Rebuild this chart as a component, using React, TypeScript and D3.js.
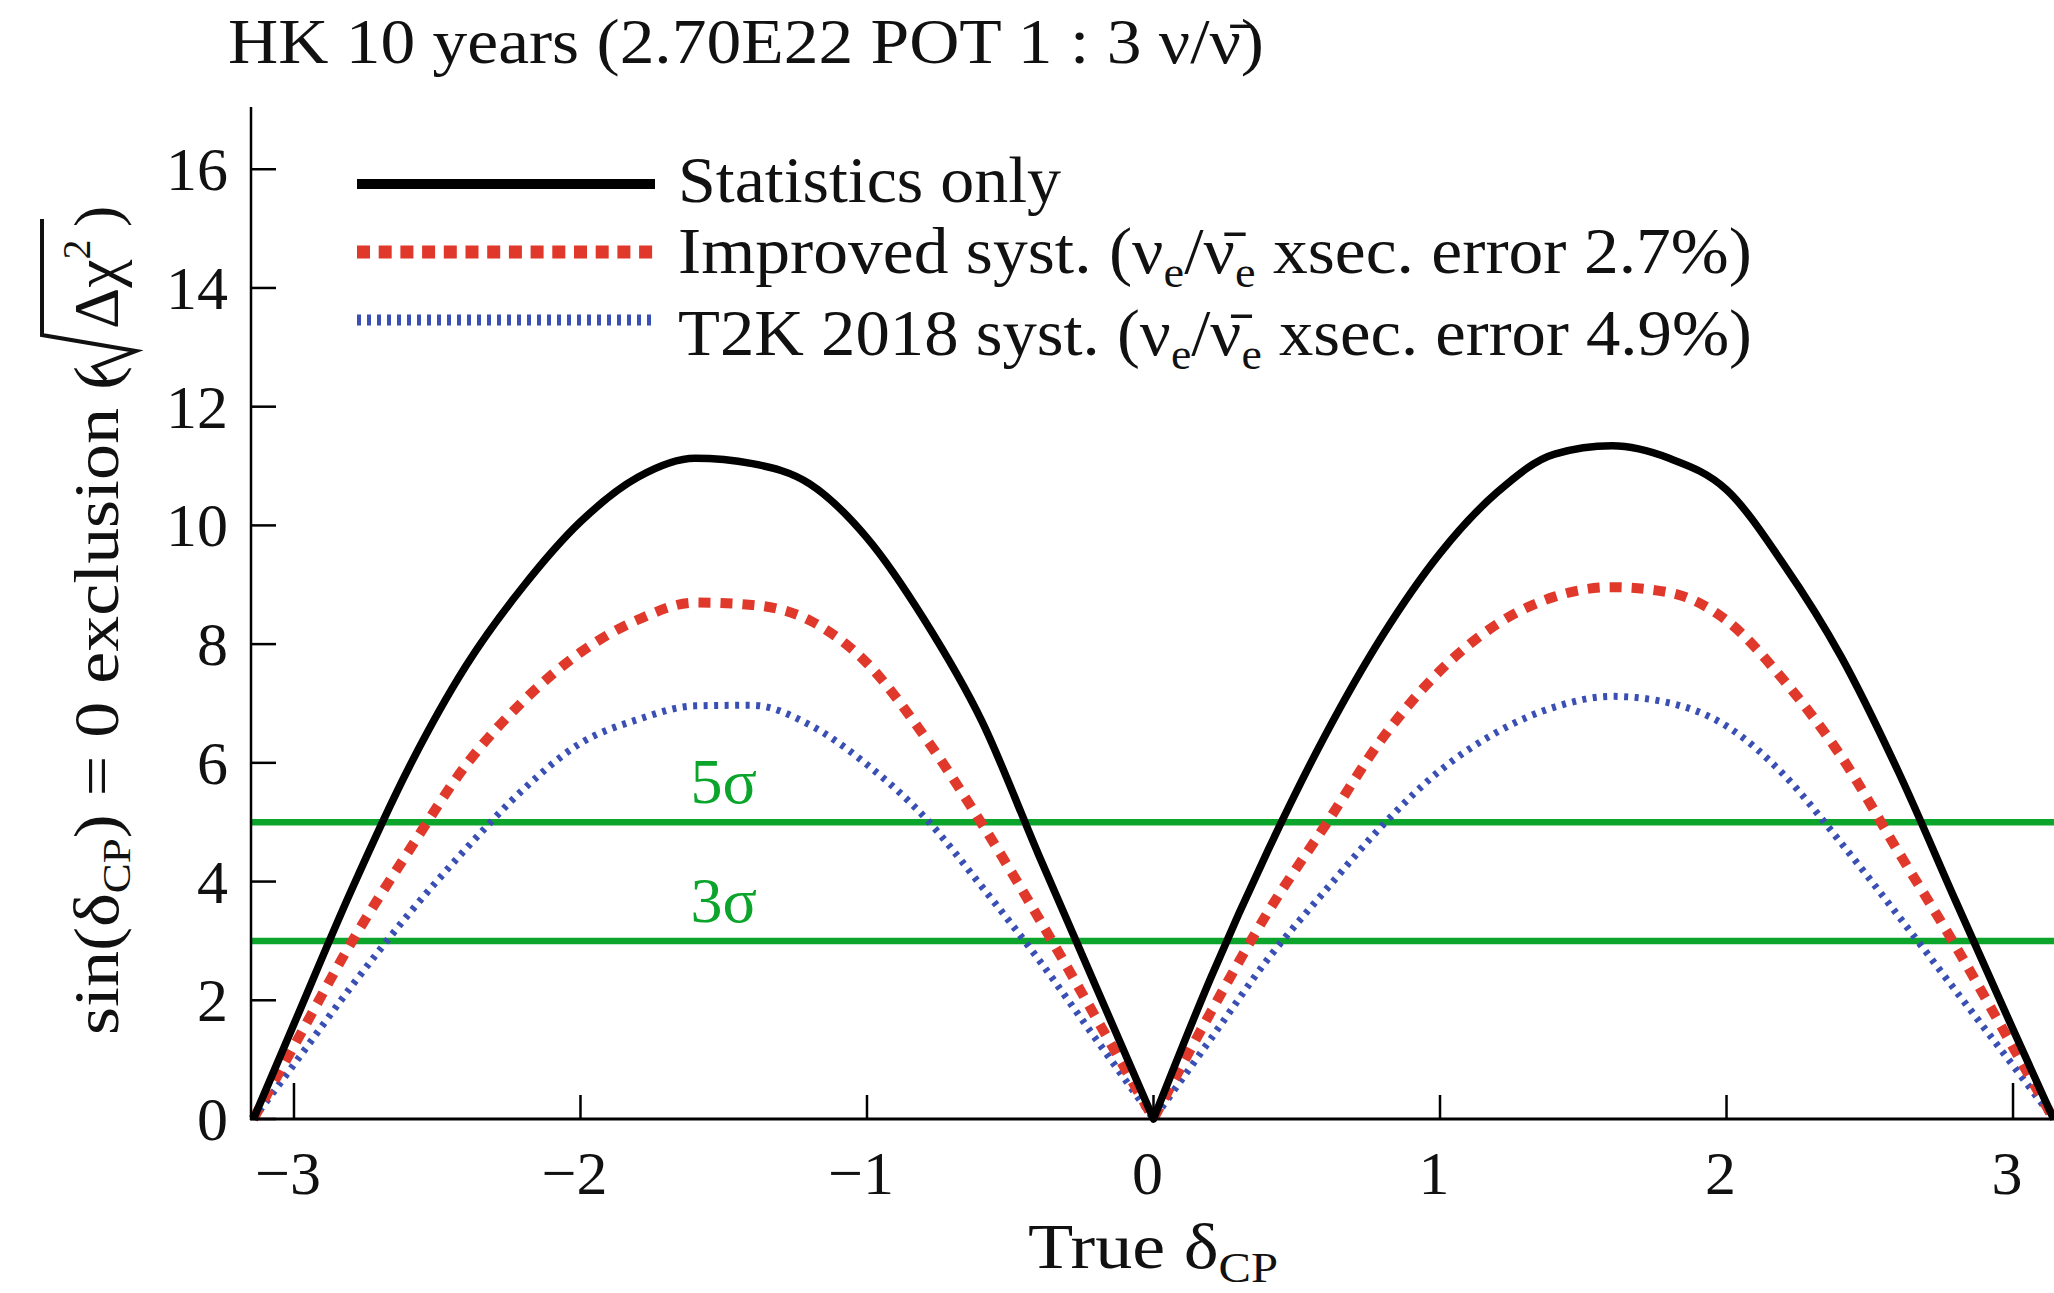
import React from 'react';
import * as d3 from 'd3';

// True delta_CP sample points (radians)
const deltaCP = [
  -3.1416, -3.0, -2.8, -2.6, -2.4, -2.2, -2.0, -1.8, -1.6, -1.4, -1.2, -1.0, -0.8, -0.6, -0.4, -0.2,
  0.0, 0.2, 0.4, 0.6, 0.8, 1.0, 1.2, 1.4, 1.6, 1.8, 2.0, 2.2, 2.4, 2.6, 2.8, 3.0, 3.1416,
];

// sqrt(delta chi^2) for sin(delta_CP)=0 exclusion
const statsOnly = [
  0, 1.6, 3.85, 5.91, 7.63, 8.97, 10.06, 10.81, 11.13, 11.04, 10.7, 9.79, 8.41, 6.71, 4.44, 2.22,
  0, 2.38, 4.53, 6.47, 8.15, 9.53, 10.56, 11.2, 11.34, 11.13, 10.6, 9.34, 7.79, 5.85, 3.67, 1.51, 0,
];
const improvedSyst = [
  0, 1.23, 2.97, 4.51, 5.96, 7.04, 7.86, 8.41, 8.7, 8.66, 8.4, 7.68, 6.45, 4.98, 3.38, 1.7,
  0, 1.8, 3.49, 4.95, 6.42, 7.55, 8.34, 8.8, 8.96, 8.87, 8.4, 7.39, 6.11, 4.5, 2.91, 1.21, 0,
];
const t2k2018Syst = [
  0, 0.92, 2.23, 3.45, 4.55, 5.55, 6.33, 6.73, 6.96, 6.97, 6.64, 5.97, 5.09, 3.92, 2.68, 1.34,
  0, 1.35, 2.7, 3.85, 4.95, 5.87, 6.52, 6.94, 7.12, 7.01, 6.62, 5.8, 4.65, 3.42, 2.16, 0.9, 0,
];

const xTicks = [-3, -2, -1, 0, 1, 2, 3];
const yTicks = [0, 2, 4, 6, 8, 10, 12, 14, 16];
const sigmaLevels = [
  { value: 5, label: '5σ' },
  { value: 3, label: '3σ' },
];

const W = 2054;
const H = 1293;
const FONT = '"Liberation Serif", "Times New Roman", Times, serif';
const GREEN = '#0aa52a';
const RED = '#e0392b';
const BLUE = '#3a4fb4';

export default function App() {
  const x = d3.scaleLinear().domain([-3.15, 3.15]).range([251, 2056]);
  const y = d3.scaleLinear().domain([0, 17]).range([1119, 1119 - 17 * 59.36]);

  // each hump (between zeros) is drawn smoothly; the cusp at 0 stays sharp
  const zeroIdx = deltaCP.indexOf(0);
  const humpPath = (vals: number[]) => {
    const pts = vals.map((v, i) => [deltaCP[i], v] as [number, number]);
    const gen = d3
      .line<[number, number]>()
      .x((d) => x(d[0]))
      .y((d) => y(d[1]))
      .curve(d3.curveMonotoneX);
    const left = gen(pts.slice(0, zeroIdx + 1)) as string;
    const right = gen(pts.slice(zeroIdx)) as string;
    return left + ' ' + right.replace(/^M/, 'L');
  };

  const series = [
    { vals: t2k2018Syst, color: BLUE, width: 7, dash: '4 6.5' },
    { vals: improvedSyst, color: RED, width: 10, dash: '12 10' },
    { vals: statsOnly, color: '#000', width: 7.5, dash: undefined as string | undefined },
  ];

  const legendY = [184, 252, 320];

  return (
    <svg
      width={W}
      height={H}
      style={{ position: 'absolute', left: 0, top: 0, background: '#fff' }}
      fontFamily={FONT}
    >
      <rect x={0} y={0} width={W} height={H} fill="#fff" />

      {/* Title */}
      <text x={228} y={63} fontSize={64} textLength={1036} lengthAdjust="spacingAndGlyphs" fill="#111">
        HK 10 years (2.70E22 POT 1 : 3 ν/ν&#x0304;)
      </text>

      {/* sigma lines */}
      {sigmaLevels.map((s) => (
        <g key={s.label}>
          <line x1={251} x2={W} y1={y(s.value)} y2={y(s.value)} stroke={GREEN} strokeWidth={6.5} />
          <text x={x(-1.5)} y={y(s.value) - 19} fontSize={64} fill={GREEN} textAnchor="middle">
            {s.label}
          </text>
        </g>
      ))}

      {/* curves */}
      {series.map((s, i) => (
        <path
          key={i}
          d={humpPath(s.vals)}
          fill="none"
          stroke={s.color}
          strokeWidth={s.width}
          strokeDasharray={s.dash}
          strokeLinejoin="round"
        />
      ))}

      {/* axes */}
      <line x1={251} x2={251} y1={107} y2={1120} stroke="#000" strokeWidth={2.5} />
      <line x1={250} x2={W} y1={1119} y2={1119} stroke="#000" strokeWidth={3} />
      {yTicks.map((t) => (
        <g key={'y' + t}>
          <line x1={251} x2={276} y1={y(t)} y2={y(t)} stroke="#000" strokeWidth={2.5} />
          <text x={228} y={y(t)} fontSize={62} textAnchor="end" dominantBaseline="central" fill="#111">
            {t}
          </text>
        </g>
      ))}
      {xTicks.map((t) => (
        <g key={'x' + t}>
          <line
            x1={x(t)}
            x2={x(t)}
            y1={1119}
            y2={1119 - (Math.abs(t) === 3 ? 36 : 24)}
            stroke="#000"
            strokeWidth={2.5}
          />
          <text x={x(t) - 6} y={1194} fontSize={62} textAnchor="middle" fill="#111">
            {t < 0 ? '\u2212' + Math.abs(t) : String(t)}
          </text>
        </g>
      ))}

      {/* x-axis title */}
      <text x={1028} y={1268} fontSize={64} textLength={250} lengthAdjust="spacingAndGlyphs" fill="#111">
        True δ<tspan dy={14} fontSize={42}>CP</tspan>
      </text>

      {/* y-axis title */}
      <g transform="translate(118,1035) rotate(-90)" fill="#111">
        <text x={0} y={0} fontSize={64} textLength={669} lengthAdjust="spacingAndGlyphs">
          sin(δ<tspan dy={12} fontSize={40}>CP</tspan>
          <tspan dy={-12}>) = 0 exclusion (</tspan>
        </text>
        <path d="M655,-12 L668,-24 L684,18 L700,-76 L816,-76" fill="none" stroke="#111" strokeWidth={4} />
        <text x={706} y={0} fontSize={64}>
          Δχ<tspan dy={-28} fontSize={40}>2</tspan>
        </text>
        <text x={808} y={0} fontSize={64}>)</text>
      </g>

      {/* legend */}
      <line x1={357} x2={655} y1={legendY[0]} y2={legendY[0]} stroke="#000" strokeWidth={10} />
      <line x1={357} x2={655} y1={legendY[1]} y2={legendY[1]} stroke={RED} strokeWidth={13} strokeDasharray="13 8.7" />
      <line x1={357} x2={655} y1={legendY[2]} y2={legendY[2]} stroke={BLUE} strokeWidth={11} strokeDasharray="4 6" />

      <text x={678} y={202} fontSize={66} textLength={383} lengthAdjust="spacingAndGlyphs" fill="#111">
        Statistics only
      </text>
      <text x={678} y={273} fontSize={66} textLength={1074} lengthAdjust="spacingAndGlyphs" fill="#111">
        Improved syst. (ν<tspan dy={14} fontSize={44}>e</tspan>
        <tspan dy={-14}>/ν&#x0304;</tspan>
        <tspan dy={14} fontSize={44}>e</tspan>
        <tspan dy={-14}> xsec. error 2.7%)</tspan>
      </text>
      <text x={678} y={355} fontSize={66} textLength={1074} lengthAdjust="spacingAndGlyphs" fill="#111">
        T2K 2018 syst. (ν<tspan dy={14} fontSize={44}>e</tspan>
        <tspan dy={-14}>/ν&#x0304;</tspan>
        <tspan dy={14} fontSize={44}>e</tspan>
        <tspan dy={-14}> xsec. error 4.9%)</tspan>
      </text>
    </svg>
  );
}
